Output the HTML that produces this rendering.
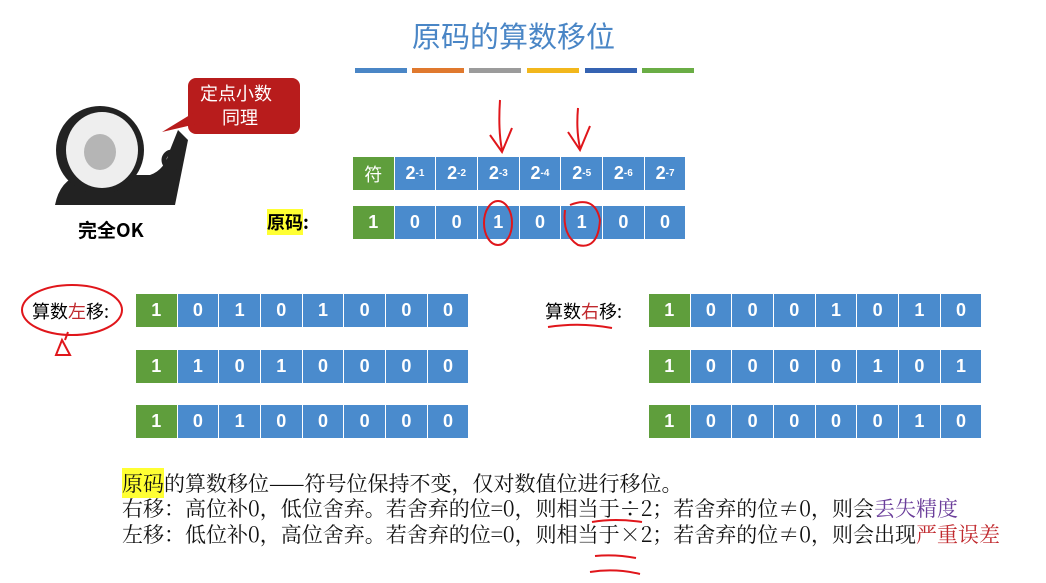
<!DOCTYPE html>
<html><head><meta charset="utf-8"><style>
body{margin:0;width:1046px;height:583px;background:#fff;position:relative;overflow:hidden;font-family:"Liberation Sans","Noto Sans CJK SC",sans-serif}
.row{position:absolute;display:flex;height:33px}
.row div{width:40.5px;margin-right:1.2px;background:#4a8bcd;color:#fff;font-weight:bold;font-size:18px;display:flex;align-items:center;justify-content:center}
.row div.g{background:#5f9e3c}
.row div:last-child{margin-right:0}
.t{position:absolute;white-space:nowrap}
.bar{position:absolute;top:68px;height:5px;width:52px}
sup{font-size:10px}
.txt{position:absolute;left:122px;font-size:21px;line-height:25px;font-family:"Noto Serif CJK SC","Noto Sans CJK SC",serif;color:#111;white-space:nowrap}
</style></head><body>
<div class="t" style="left:412px;top:14px;font-size:29px;color:#4a86c6;font-family:'Noto Sans CJK SC',sans-serif">原码的算数移位</div>
<div class="bar" style="left:355px;background:#4a86c6"></div>
<div class="bar" style="left:412px;background:#e0792e"></div>
<div class="bar" style="left:469px;background:#9b9b9b"></div>
<div class="bar" style="left:527px;background:#f2b71c"></div>
<div class="bar" style="left:585px;background:#3563b2"></div>
<div class="bar" style="left:642px;background:#6aad45"></div>

<!-- panda -->
<svg style="position:absolute;left:40px;top:100px" width="160" height="115">
<path d="M15 105 Q20 80 40 75 L110 75 Q125 70 130 50 L138 30 L148 40 L142 70 L135 105 Z" fill="#222"/>
<ellipse cx="60" cy="50" rx="44" ry="44" fill="#222"/>
<ellipse cx="62" cy="50" rx="36" ry="38" fill="#eee"/>
<ellipse cx="60" cy="52" rx="16" ry="18" fill="#b5b5b5"/>
<circle cx="132" cy="60" r="8" fill="none" stroke="#222" stroke-width="5"/>
</svg>
<div class="t" style="left:78px;top:216px;font-size:19px;font-weight:bold;font-family:'Noto Sans CJK SC',sans-serif">完全OK</div>
<svg style="position:absolute;left:150px;top:70px" width="160" height="70">
<rect x="38" y="8" width="112" height="56" rx="8" fill="#b81c1c"/>
<path d="M48 40 L12 62 L55 52 Z" fill="#b81c1c"/>
</svg>
<div class="t" style="left:200px;top:81px;font-size:18px;color:#fff;text-align:center;line-height:24px;font-family:'Noto Sans CJK SC',sans-serif">定点小数<br>&nbsp;&nbsp;同理</div>

<div class="row" style="left:353px;top:157px"><div class="g" style="font-weight:normal;font-family:'Noto Sans CJK SC'">符</div><div>2<sup>-1</sup></div><div>2<sup>-2</sup></div><div>2<sup>-3</sup></div><div>2<sup>-4</sup></div><div>2<sup>-5</sup></div><div>2<sup>-6</sup></div><div>2<sup>-7</sup></div></div>
<div class="t" style="left:267px;top:209px;font-size:18px;font-weight:bold;font-family:'Noto Sans CJK SC',sans-serif"><span style="background:#ffff33">原码</span>:</div>
<div class="row" style="left:353px;top:206px"><div class="g">1</div><div>0</div><div>0</div><div>1</div><div>0</div><div>1</div><div>0</div><div>0</div></div>

<div class="t" style="left:32px;top:298px;font-size:18px;font-family:'Noto Sans CJK SC',sans-serif">算数<span style="color:#c0282d">左</span>移:</div>
<div class="row" style="left:136px;top:294px"><div class="g">1</div><div>0</div><div>1</div><div>0</div><div>1</div><div>0</div><div>0</div><div>0</div></div>
<div class="row" style="left:136px;top:350px"><div class="g">1</div><div>1</div><div>0</div><div>1</div><div>0</div><div>0</div><div>0</div><div>0</div></div>
<div class="row" style="left:136px;top:405px"><div class="g">1</div><div>0</div><div>1</div><div>0</div><div>0</div><div>0</div><div>0</div><div>0</div></div>

<div class="t" style="left:545px;top:298px;font-size:18px;font-family:'Noto Sans CJK SC',sans-serif">算数<span style="color:#c0282d">右</span>移:</div>
<div class="row" style="left:649px;top:294px"><div class="g">1</div><div>0</div><div>0</div><div>0</div><div>1</div><div>0</div><div>1</div><div>0</div></div>
<div class="row" style="left:649px;top:350px"><div class="g">1</div><div>0</div><div>0</div><div>0</div><div>0</div><div>1</div><div>0</div><div>1</div></div>
<div class="row" style="left:649px;top:405px"><div class="g">1</div><div>0</div><div>0</div><div>0</div><div>0</div><div>0</div><div>1</div><div>0</div></div>

<!-- red annotations -->
<svg style="position:absolute;left:0;top:0" width="1046" height="583" fill="none" stroke="#e0161b" stroke-width="2">
<path d="M500 100 Q498 130 502 150 M490 135 L502 152 L512 128"/>
<path d="M578 108 Q576 130 580 148 M568 132 L580 150 L590 126"/>
<ellipse cx="498" cy="223" rx="14" ry="22"/>
<path d="M570 205 Q595 195 600 220 Q598 250 578 245 Q562 235 565 210"/>
<ellipse cx="72" cy="310" rx="50" ry="25"/>
<path d="M62 340 L70 355 L56 355 Z M68 332 L65 340"/>
<path d="M548 327 Q580 322 612 328"/>
<path d="M592 522 Q615 518 642 522 M392 0 M595 556 Q615 554 636 558 M590 572 Q615 568 640 574"/>
</svg>

<div class="txt" style="top:471px"><span style="background:#ffff33">原码</span>的算数移位——符号位保持不变，仅对数值位进行移位。</div>
<div class="txt" style="top:496px">右移：高位补0，低位舍弃。若舍弃的位=0，则相当于÷2；若舍弃的位≠0，则会<span style="color:#6a3d9a">丢失精度</span></div>
<div class="txt" style="top:522px">左移：低位补0，高位舍弃。若舍弃的位=0，则相当于×2；若舍弃的位≠0，则会出现<span style="color:#c0282d">严重误差</span></div>
</body></html>
